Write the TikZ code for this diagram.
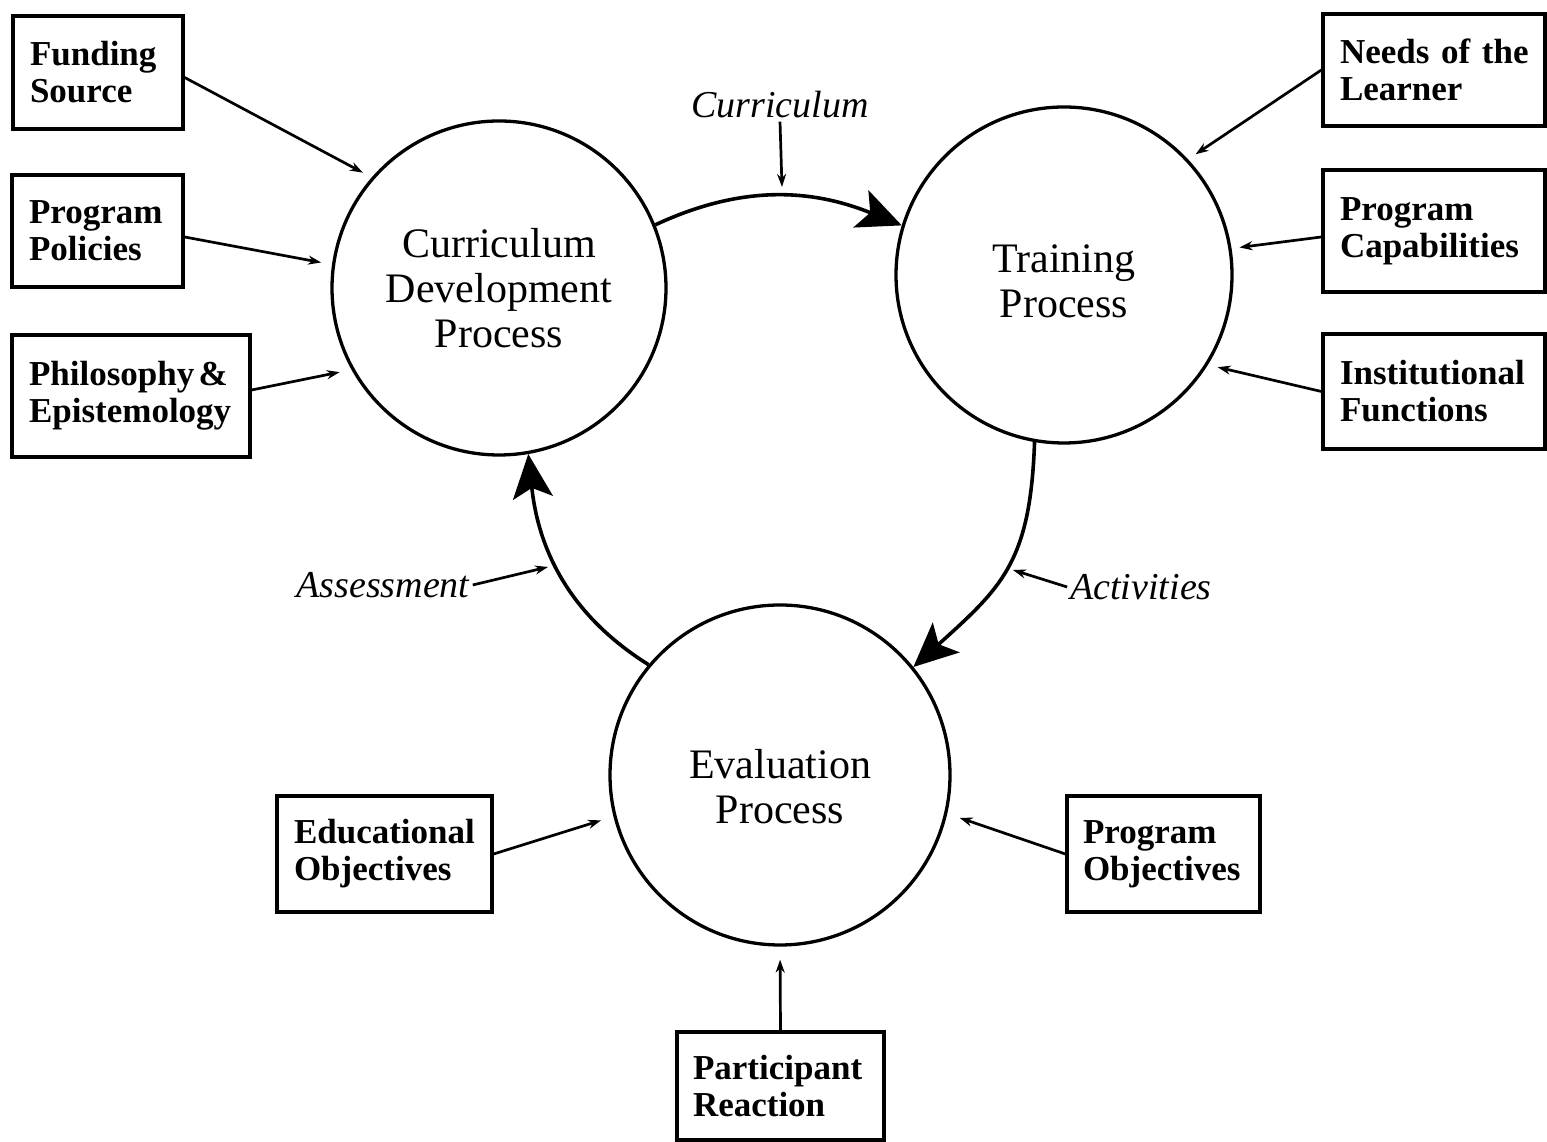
\documentclass[tikz,border=0pt]{standalone}
\usepackage{fontspec}
\setmainfont{Liberation Serif}
\usetikzlibrary{arrows.meta}
\begin{document}
\begin{tikzpicture}[x=1pt,y=1pt,
  proc/.style={draw, circle, line width=3.3pt, inner sep=0pt, align=center, font=\fontsize{42}{45}\selectfont},
  srcbox/.style={draw, rectangle, line width=3.3pt, inner xsep=17pt, inner ysep=0pt, align=left, font=\bfseries\fontsize{35}{37}\selectfont},
  lab/.style={font=\itshape\fontsize{38}{42}\selectfont, inner sep=3pt},
  thinarr/.style={line width=2.7pt, -{Stealth[length=13pt,width=9pt]}},
  bigarr/.style={line width=3.6pt, -{Stealth[length=44pt,width=40pt,inset=10pt]}},
]
\useasboundingbox (0,0) rectangle (1547,1142);

% processes
\node[proc, minimum size=334pt] (cd) at (499,854) {Curriculum\\Development\\Process};
\node[proc, minimum size=336pt] (tr) at (1064,867) {\rule{0pt}{40pt}Training\\Process};
\node[proc, minimum size=340pt] (ev) at (780,367) {\rule{0pt}{53pt}Evaluation\\Process};

% source boxes
\node[srcbox, minimum width=170pt, minimum height=113pt, text width=136pt] (fund) at (98,1069.5) {Funding\\Source};
\node[srcbox, minimum width=171pt, minimum height=112pt, text width=137pt] (pol) at (97.5,911) {Program\\Policies};
\node[srcbox, minimum width=238pt, minimum height=122pt, text width=204pt] (phil) at (131,746) {Philosophy\hspace{0.12em}\&\\Epistemology};
\node[srcbox, minimum width=222pt, minimum height=112pt, text width=188pt] (needs) at (1434,1072) {Needs~of~the\\Learner};
\node[srcbox, minimum width=222pt, minimum height=122pt, text width=188pt] (cap) at (1434,911) {Program\\Capabilities};
\node[srcbox, minimum width=222pt, minimum height=115pt, text width=188pt] (inst) at (1434,750.5) {Institutional\\Functions};
\node[srcbox, minimum width=215pt, minimum height=116pt, text width=181pt] (edu) at (384.5,288) {Educational\\Objectives};
\node[srcbox, minimum width=193pt, minimum height=116pt, text width=161pt, inner xsep=16pt] (pobj) at (1163.5,288) {Program\\Objectives};
\node[srcbox, minimum width=207pt, minimum height=108pt, text width=175pt, inner xsep=16pt] (part) at (780.5,56) {Participant\\Reaction};

% labels
\node[lab] (curlab) at (780,1037) {Curriculum};
\node[lab] (asslab) at (383,557) {Assessment};
\node[lab] (actlab) at (1141,555) {Activities};
\coordinate (curtip) at (782,955);
\coordinate (asstip) at (548,575);
\coordinate (acttip) at (1013,572);

% main cycle
\draw[bigarr] (cd.22) to[out=25, in=158] (tr.163);
\draw[bigarr] (tr.260) to[out=-92, in=42, looseness=1.2] (ev.39);
\draw[bigarr] (ev.140) to[out=148, in=-84] (cd.-80);

% label pointers
\draw[thinarr] (curlab.south) -- (curtip);
\draw[thinarr] (asslab.east) -- (asstip);
\draw[thinarr] (actlab.west) -- (acttip);

% inputs
\draw[thinarr, shorten >=10pt] ([yshift=-5pt]fund.east) -- (cd.139);
\draw[thinarr, shorten >=11pt] ([yshift=-6pt]pol.east) -- (cd.172);
\draw[thinarr, shorten >=12pt] ([yshift=6pt]phil.east) -- (cd.209);
\draw[thinarr, shorten >=9pt] (needs.west) -- (tr.43.6);
\draw[thinarr, shorten >=8pt] ([yshift=-6pt]cap.west) -- (tr.9.5);
\draw[thinarr, shorten >=10pt] (inst.west) -- (tr.-32.3);
\draw[thinarr, shorten >=13pt] (edu.east) -- (ev.194.9);
\draw[thinarr, shorten >=13pt] (pobj.west) -- (ev.-13.6);
\draw[thinarr, shorten >=13pt] (part.north) -- (ev.-90);
\end{tikzpicture}
\end{document}
